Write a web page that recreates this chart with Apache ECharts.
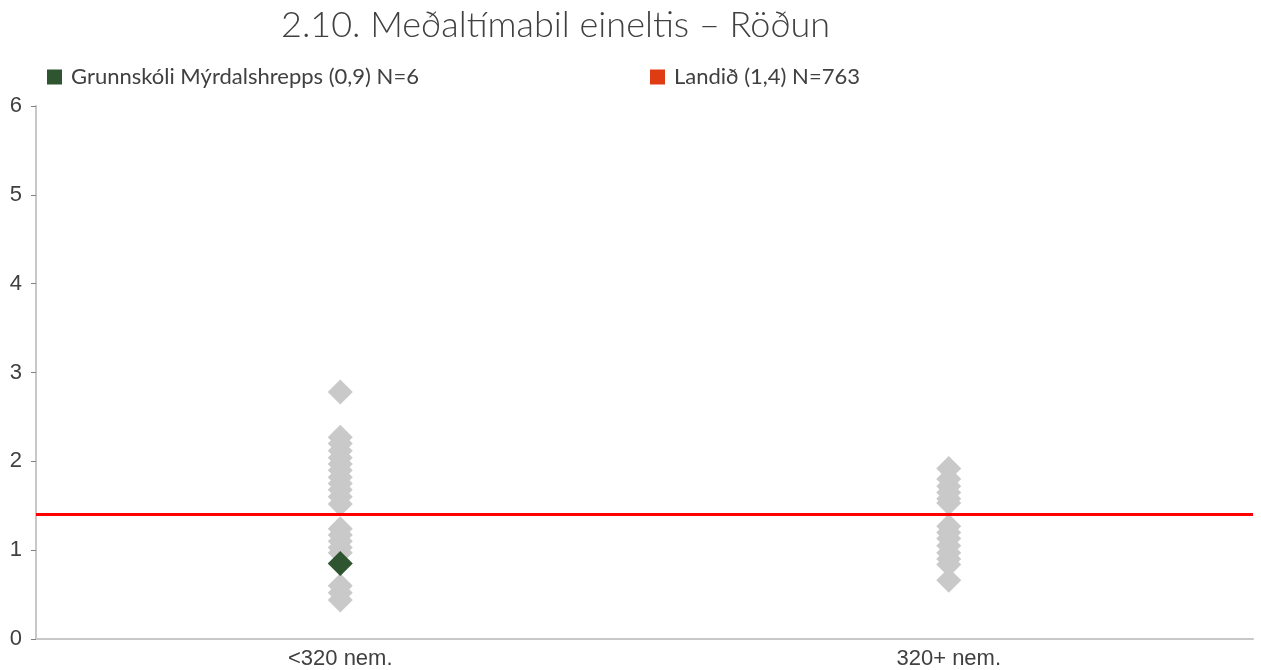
<!DOCTYPE html>
<html>
<head>
<meta charset="utf-8">
<script src="https://cdn.jsdelivr.net/npm/echarts@6/dist/echarts.min.js"></script>
<style>
  html, body { margin: 0; padding: 0; background: #fff; }
  #chart { width: 1261px; height: 670px; }
</style>
</head>
<body>
<div id="chart"></div>
<script>
var categories = ['<320 nem.', '320+ nem.'];

// gray diamonds: other schools per size group
var smallSchools = [2.78, 2.27, 2.2, 2.12, 2.04, 1.97, 1.9, 1.82, 1.75, 1.68, 1.6, 1.52,
  1.24, 1.17, 1.1, 1.03, 0.97, 0.6, 0.52, 0.44];
var largeSchools = [1.92, 1.8, 1.72, 1.65, 1.58, 1.53, 1.27, 1.2, 1.13, 1.05, 0.97,
  0.9, 0.84, 0.66];

var schoolName = 'Grunnskóli Mýrdalshrepps (0,9) N=6';
var schoolValue = [[0, 0.85]];
var countryName = 'Landið (1,4) N=763';
var countryValue = 1.4;

var chart = echarts.init(document.getElementById('chart'));

var grayData = [];
smallSchools.forEach(function (v) { grayData.push([0, v]); });
largeSchools.forEach(function (v) { grayData.push([1, v]); });

var font = 'Lato, "Open Sans", sans-serif';
var axisFont = '"Liberation Sans", Arial, sans-serif';

var option = {
  animation: false,
  textStyle: { fontFamily: font },
  title: {
    text: '2.10. Meðaltímabil eineltis – Röðun',
    left: 276,
    top: 2,
    textStyle: { fontSize: 36, fontWeight: 300, color: '#404040', fontFamily: font }
  },
  legend: [
    {
      left: 42, top: 61,
      itemWidth: 15, itemHeight: 15,
      textStyle: { fontSize: 22, color: '#404040', fontFamily: font, padding: [0, 0, 0, 4] },
      data: [{ name: schoolName, icon: 'rect', itemStyle: { color: '#2e5430' } }]
    },
    {
      left: 645, top: 61,
      itemWidth: 15, itemHeight: 15,
      textStyle: { fontSize: 22, color: '#404040', fontFamily: font, padding: [0, 0, 0, 4] },
      data: [{ name: countryName, icon: 'rect', itemStyle: { color: '#e03c14' } }]
    }
  ],
  grid: { left: 36, right: 8, top: 106, bottom: 31 },
  xAxis: {
    type: 'category',
    data: categories,
    axisLine: { lineStyle: { color: '#c8c8c8', width: 2 } },
    axisTick: { show: false },
    axisLabel: { fontSize: 22, color: '#404040', margin: 9, fontFamily: axisFont },
    splitLine: { show: false }
  },
  yAxis: {
    type: 'value',
    min: 0,
    max: 6,
    interval: 1,
    axisLine: { show: true, lineStyle: { color: '#c8c8c8', width: 2 } },
    axisTick: { show: true, length: 5, lineStyle: { color: '#808080' } },
    axisLabel: { fontSize: 22, color: '#404040', margin: 14, fontFamily: axisFont },
    splitLine: { show: false }
  },
  series: [
    {
      name: 'other',
      type: 'scatter',
      symbol: 'diamond',
      symbolSize: 25,
      itemStyle: { color: '#c9c9c9', opacity: 1 },
      data: grayData,
      z: 2
    },
    {
      name: schoolName,
      type: 'scatter',
      symbol: 'diamond',
      symbolSize: 25,
      itemStyle: { color: '#2e5430', opacity: 1 },
      data: schoolValue,
      z: 4
    },
    {
      name: countryName,
      type: 'line',
      data: [],
      itemStyle: { color: '#e03c14' },
      markLine: {
        silent: true,
        symbol: 'none',
        label: { show: false },
        lineStyle: { color: '#ff0000', width: 3, type: 'solid' },
        data: [{ yAxis: countryValue }]
      },
      z: 3
    }
  ]
};

chart.setOption(option);
</script>
</body>
</html>
